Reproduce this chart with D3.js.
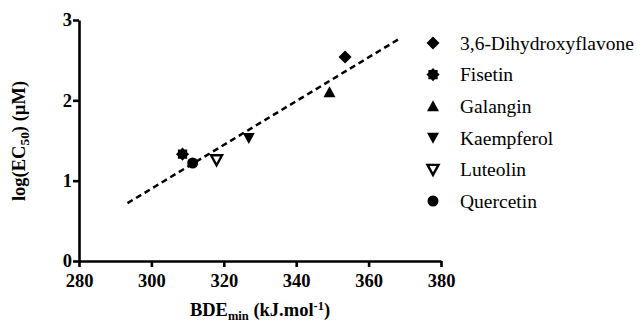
<!DOCTYPE html>
<html>
<head>
<meta charset="utf-8">
<script src="https://cdn.jsdelivr.net/npm/d3@7"></script>
<style>
  body { margin: 0; background: #fff; }
</style>
</head>
<body>
<div id="chart"></div>
<script>
// compounds and their values
const compounds = ['3,6-Dihydroxyflavone', 'Fisetin', 'Galangin', 'Kaempferol', 'Luteolin', 'Quercetin'];
const bdeValues = [353.5, 308.6, 349.2, 326.9, 318.0, 311.4];
const logEC50 = [2.54, 1.33, 2.10, 1.53, 1.26, 1.22];
const markers = ['diamond', 'star', 'up', 'down', 'downOpen', 'circle'];

const fitX = [293.4, 369.0];
const fitY = [0.72, 2.78];

const xTicks = [280, 300, 320, 340, 360, 380];
const yTicks = [0, 1, 2, 3];

const serif = "'Liberation Serif', 'Times New Roman', Times, serif";

const w = 643, h = 323;
const margin = {top: 20, right: 202, bottom: 62, left: 79};

const svg = d3.select('#chart').append('svg')
  .attr('width', w).attr('height', h)
  .attr('font-family', serif);

const x = d3.scaleLinear().domain([280, 380]).range([margin.left, w - margin.right]);
const y = d3.scaleLinear().domain([0, 3]).range([h - margin.bottom, margin.top]);

// axes
const xAxis = svg.append('g')
  .attr('transform', 'translate(0,' + (h - margin.bottom) + ')')
  .call(d3.axisBottom(x).tickValues(xTicks).tickFormat(d3.format('d')).tickSize(6).tickSizeOuter(0));
const yAxis = svg.append('g')
  .attr('transform', 'translate(' + margin.left + ',0)')
  .call(d3.axisLeft(y).tickValues(yTicks).tickFormat(d3.format('d')).tickSize(6).tickSizeOuter(0));

[xAxis, yAxis].forEach(a => {
  a.attr('font-family', serif).attr('font-size', 18.5).attr('font-weight', 'bold');
  a.selectAll('path, line').attr('stroke', '#000').attr('stroke-width', 2.6);
  a.selectAll('text').attr('fill', '#000');
});
xAxis.selectAll('text').attr('dy', '0.9em');
yAxis.selectAll('text').attr('x', -7);

// axis titles
const xt = svg.append('text')
  .attr('x', 260).attr('y', 316)
  .attr('text-anchor', 'middle')
  .attr('font-weight', 'bold').attr('font-size', 18.5);
xt.append('tspan').text('BDE');
xt.append('tspan').text('min').attr('font-size', 12.5).attr('dy', 4);
xt.append('tspan').text(' (kJ.mol').attr('dy', -4);
xt.append('tspan').text('-1').attr('font-size', 12.5).attr('dy', -6);
xt.append('tspan').text(')').attr('dy', 6);

const yt = svg.append('text')
  .attr('transform', 'translate(25,141) rotate(-90)')
  .attr('text-anchor', 'middle')
  .attr('font-weight', 'bold').attr('font-size', 18.5);
yt.append('tspan').text('log(EC');
yt.append('tspan').text('50').attr('font-size', 13.5).attr('dy', 4);
yt.append('tspan').text(') (\u00b5M)').attr('dy', -4);

// regression line
svg.append('line')
  .attr('x1', x(fitX[0])).attr('y1', y(fitY[0]))
  .attr('x2', x(fitX[1])).attr('y2', y(fitY[1]))
  .attr('stroke', '#000').attr('stroke-width', 2.5)
  .attr('stroke-dasharray', '6,4');

function drawMarker(g, type) {
  if (type === 'diamond') {
    g.append('path').attr('d', 'M0,-6.5L6.5,0L0,6.5L-6.5,0Z').attr('fill', '#000');
  } else if (type === 'star') {
    const pts = [];
    for (let i = 0; i < 16; i++) {
      const r = i % 2 ? 5 : 6.6;
      const a = i * Math.PI / 8;
      pts.push([r * Math.cos(a), r * Math.sin(a)]);
    }
    g.append('path').attr('d', 'M' + pts.join('L') + 'Z').attr('fill', '#000');
  } else if (type === 'up') {
    g.append('path').attr('d', 'M0,-6L6,5L-6,5Z').attr('fill', '#000');
  } else if (type === 'down') {
    g.append('path').attr('d', 'M0,6L6,-5L-6,-5Z').attr('fill', '#000');
  } else if (type === 'downOpen') {
    g.append('path').attr('d', 'M0,5.5L5.5,-4.5L-5.5,-4.5Z')
      .attr('fill', '#fff').attr('stroke', '#000').attr('stroke-width', 2.4);
  } else if (type === 'circle') {
    g.append('circle').attr('r', 5.5).attr('fill', '#000');
  }
}

// points
compounds.forEach((c, i) => {
  const g = svg.append('g')
    .attr('transform', 'translate(' + x(bdeValues[i]) + ',' + y(logEC50[i]) + ')');
  drawMarker(g, markers[i]);
});

// legend
compounds.forEach((c, i) => {
  const ly = 43 + i * 31.6;
  const g = svg.append('g').attr('transform', 'translate(433,' + ly + ')');
  drawMarker(g, markers[i]);
  svg.append('text')
    .attr('x', 460).attr('y', ly).attr('dy', '0.35em')
    .attr('font-size', 19.5)
    .text(c);
});
</script>
</body>
</html>
